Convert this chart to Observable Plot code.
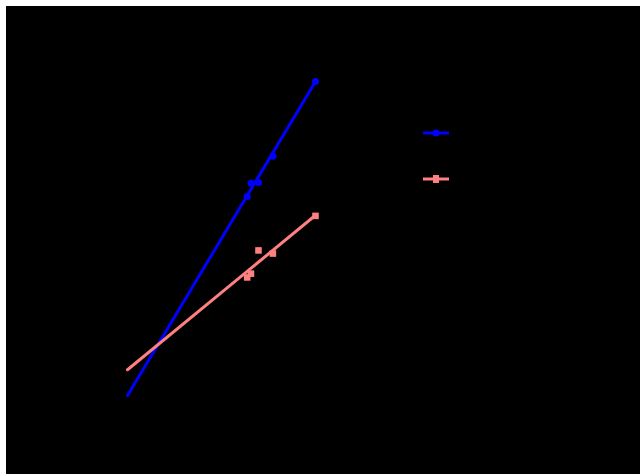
<!DOCTYPE html>
<html>
<head>
<meta charset="utf-8">
<script src="https://cdn.jsdelivr.net/npm/d3@7"></script>
<script src="https://cdn.jsdelivr.net/npm/@observablehq/plot@0.6"></script>
<style>
  html, body { margin: 0; padding: 0; background: #ffffff; width: 640px; height: 474px; overflow: hidden; }
  #wrap { position: absolute; left: 6px; top: 6px; width: 634px; height: 468px; background: #000; overflow: hidden; }
</style>
</head>
<body>
<div id="wrap"></div>
<script>
// Data (arbitrary units)
const xs = [2.91, 2.97, 3.09, 3.32, 4.0];
const blueY = [4.17, 4.38, 4.39, 4.81, 6.0];
const salmonY = [2.88, 2.94, 3.31, 3.26, 3.86];
// Fitted lines (endpoints)
const fitX = [1, 4];
const blueFit = [1.0, 6.0];
const salmonFit = [1.41, 3.87];

const blue = "#0000ff";
const salmon = "#ff8080";

const pts = (ys) => xs.map((x, i) => ({x, y: ys[i]}));
const fit = (ys) => fitX.map((x, i) => ({x, y: ys[i]}));

const chart = Plot.plot({
  width: 634,
  height: 468,
  style: {background: "#000"},
  x: {domain: [1, 4], range: [121, 309], axis: null},
  y: {domain: [1, 6], range: [389, 75], axis: null},
  marks: [
    Plot.line(fit(blueFit), {x: "x", y: "y", stroke: blue, strokeWidth: 3, strokeLinecap: "round"}),
    Plot.line(fit(salmonFit), {x: "x", y: "y", stroke: salmon, strokeWidth: 3, strokeLinecap: "round"}),
    Plot.dot(pts(blueY), {x: "x", y: "y", fill: blue, r: 3.5}),
    Plot.dot(pts(salmonY), {x: "x", y: "y", fill: salmon, symbol: "square", r: 3.7})
  ]
});
document.getElementById("wrap").appendChild(chart);

// Legend swatches
const leg = d3.select("#wrap").append("svg").attr("id", "legend")
  .attr("width", 40).attr("height", 70)
  .style("position", "absolute").style("left", "411px").style("top", "115px");
const items = [{c: blue, sym: "circle", y: 12}, {c: salmon, sym: "square", y: 58}];
for (const it of items) {
  leg.append("line").attr("x1", 6).attr("x2", 32).attr("y1", it.y).attr("y2", it.y)
    .attr("stroke", it.c).attr("stroke-width", 3);
  if (it.sym === "circle") leg.append("circle").attr("cx", 19).attr("cy", it.y).attr("r", 3.5).attr("fill", it.c);
  else leg.append("rect").attr("x", 16).attr("y", it.y - 4).attr("width", 6).attr("height", 8).attr("fill", it.c);
}
</script>
</body>
</html>
